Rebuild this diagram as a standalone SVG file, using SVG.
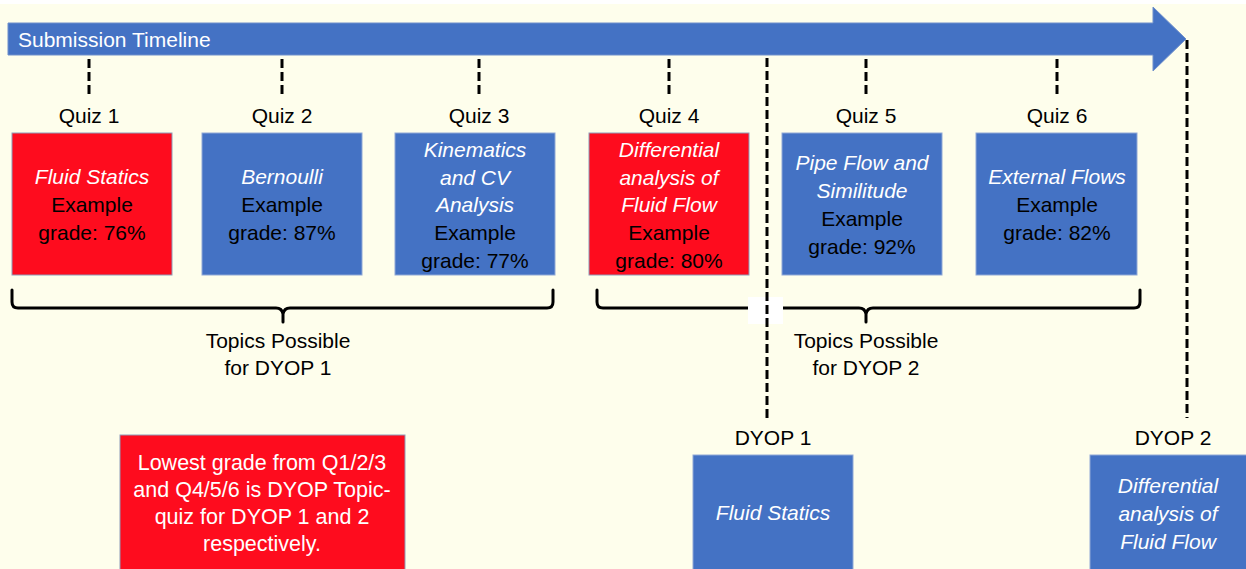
<svg xmlns="http://www.w3.org/2000/svg" width="1246" height="569" viewBox="0 0 1246 569">
<defs>
<style>
.t{font-family:"Liberation Sans",Arial,sans-serif;font-size:21px;text-anchor:middle;fill:#000}
.w{fill:#fff}
.i{font-style:italic;fill:#fff}
.n{font-size:21.5px}
.blue{fill:#4472C4;stroke:#8FA8D6;stroke-width:1}
.red{fill:#FE0C1E;stroke:#8E9BB8;stroke-width:1}
.dash{stroke:#000;stroke-width:3;stroke-dasharray:9 4;fill:none}
.brace{stroke:#000;stroke-width:3;fill:none;stroke-linecap:round;stroke-linejoin:round}
</style>
</defs>
<rect x="0" y="0" width="1246" height="569" fill="#FEFEEC"/>
<rect x="0" y="0" width="1246" height="4" fill="#fff"/>

<g id="timeline">
<polygon points="8,23 1153,23 1153,7 1186,39 1153,71 1153,55 8,55" fill="#4472C4" stroke="#6F8FCB" stroke-width="1"/>
<text x="18" y="47" class="t w" style="text-anchor:start">Submission Timeline</text>
</g>

<g id="connectors">
<line x1="89" y1="59" x2="89" y2="97" class="dash"/>
<line x1="282" y1="59" x2="282" y2="97" class="dash"/>
<line x1="479" y1="59" x2="479" y2="97" class="dash"/>
<line x1="669" y1="59" x2="669" y2="97" class="dash"/>
<line x1="866" y1="59" x2="866" y2="97" class="dash"/>
<line x1="1057" y1="59" x2="1057" y2="97" class="dash"/>
<path class="brace" d="M12,290 L12,302 Q12,308 18,308 L276,308 Q282,308 283,314 L283,322 M283,314 Q284,308 290,308 L547,308 Q553,308 553,302 L553,290"/>
<path class="brace" d="M597,290 L597,302 Q597,308 603,308 L859,308 Q865,308 866,314 L866,322 M866,314 Q867,308 873,308 L1134,308 Q1140,308 1140,302 L1140,290"/>
<rect x="748" y="297" width="35" height="27" fill="#fff"/>
<line x1="767" y1="58" x2="767" y2="418" class="dash"/>
<line x1="1187" y1="40" x2="1187" y2="418" class="dash"/>
</g>

<g id="quiz1">
<text x="89" y="123" class="t">Quiz 1</text>
<rect x="12" y="133" width="160" height="142" class="red"/>
<text x="92" y="184" class="t i">Fluid Statics</text>
<text x="92" y="212" class="t">Example</text>
<text x="92" y="240" class="t">grade: 76%</text>
</g>

<g id="quiz2">
<text x="282" y="123" class="t">Quiz 2</text>
<rect x="202" y="133" width="160" height="142" class="blue"/>
<text x="282" y="184" class="t i">Bernoulli</text>
<text x="282" y="212" class="t">Example</text>
<text x="282" y="240" class="t">grade: 87%</text>
</g>

<g id="quiz3">
<text x="479" y="123" class="t">Quiz 3</text>
<rect x="395" y="133" width="160" height="142" class="blue"/>
<text x="475" y="157" class="t i">Kinematics</text>
<text x="475" y="185" class="t i">and CV</text>
<text x="475" y="212" class="t i">Analysis</text>
<text x="475" y="240" class="t">Example</text>
<text x="475" y="268" class="t">grade: 77%</text>
</g>

<g id="quiz4">
<text x="669" y="123" class="t">Quiz 4</text>
<rect x="589" y="133" width="160" height="142" class="red"/>
<text x="669" y="157" class="t i">Differential</text>
<text x="669" y="185" class="t i">analysis of</text>
<text x="669" y="212" class="t i">Fluid Flow</text>
<text x="669" y="240" class="t">Example</text>
<text x="669" y="268" class="t">grade: 80%</text>
</g>

<g id="quiz5">
<text x="866" y="123" class="t">Quiz 5</text>
<rect x="782" y="133" width="160" height="142" class="blue"/>
<text x="862" y="170" class="t i">Pipe Flow and</text>
<text x="862" y="198" class="t i">Similitude</text>
<text x="862" y="226" class="t">Example</text>
<text x="862" y="254" class="t">grade: 92%</text>
</g>

<g id="quiz6">
<text x="1057" y="123" class="t">Quiz 6</text>
<rect x="976" y="133" width="161" height="142" class="blue"/>
<text x="1057" y="184" class="t i">External Flows</text>
<text x="1057" y="212" class="t">Example</text>
<text x="1057" y="240" class="t">grade: 82%</text>
</g>

<g id="topics1">
<text x="278" y="348" class="t">Topics Possible</text>
<text x="278" y="375" class="t">for DYOP 1</text>
</g>

<g id="topics2">
<text x="866" y="348" class="t">Topics Possible</text>
<text x="866" y="375" class="t">for DYOP 2</text>
</g>

<g id="note">
<rect x="120" y="435" width="285" height="140" class="red"/>
<text x="262" y="470" class="t w n">Lowest grade from Q1/2/3</text>
<text x="262" y="497" class="t w n">and Q4/5/6 is DYOP Topic-</text>
<text x="262" y="524" class="t w n">quiz for DYOP 1 and 2</text>
<text x="262" y="551" class="t w n">respectively.</text>
</g>

<g id="dyop1">
<text x="773" y="445" class="t">DYOP 1</text>
<rect x="693" y="455" width="160" height="120" class="blue"/>
<text x="773" y="520" class="t i">Fluid Statics</text>
</g>

<g id="dyop2">
<text x="1173" y="445" class="t">DYOP 2</text>
<rect x="1090" y="455" width="160" height="120" class="blue"/>
<text x="1168" y="493" class="t i">Differential</text>
<text x="1168" y="521" class="t i">analysis of</text>
<text x="1168" y="549" class="t i">Fluid Flow</text>
</g>
</svg>
